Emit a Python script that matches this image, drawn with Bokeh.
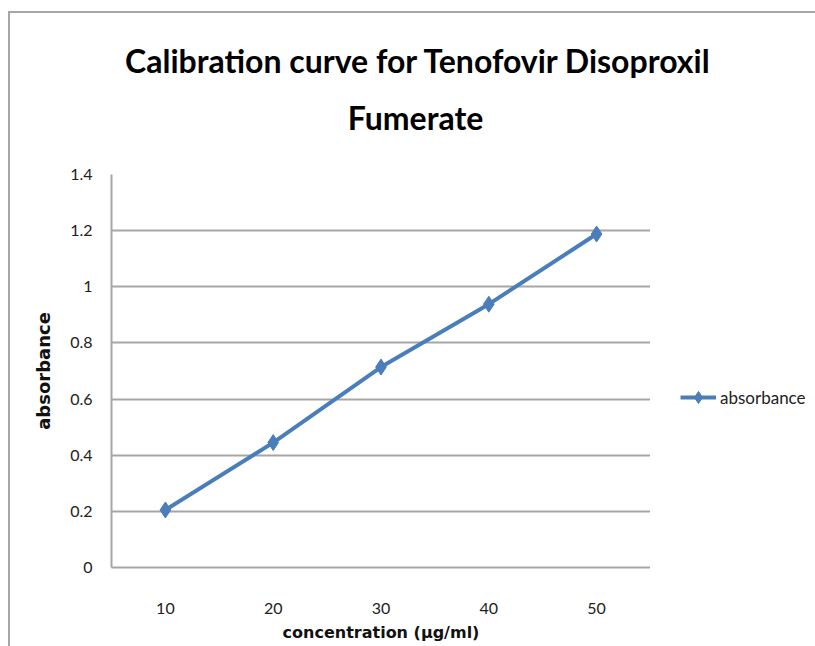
from bokeh.plotting import figure
from bokeh.layouts import row, column
from bokeh.models import (ColumnDataSource, FactorRange, Range1d, FixedTicker, Legend,
                          LegendItem, Label)
from bokeh.embed import file_html
from bokeh.resources import INLINE

# ---- data ----
concentration = ["10", "20", "30", "40", "50"]
absorbance = [0.205, 0.445, 0.714, 0.938, 1.188]
y_ticks = [0, 0.2, 0.4, 0.6, 0.8, 1.0, 1.2, 1.4]
y_tick_labels = ["0", "0.2", "0.4", "0.6", "0.8", "1", "1.2", "1.4"]
title_line1 = "Calibration curve for Tenofovir Disoproxil"
title_line2 = "Fumerate"
x_title = "concentration (\u03bcg/ml)"
y_title = "absorbance"
series_name = "absorbance"

BLUE = "#4a7ebb"
GRID = "#a6a6a6"
FONT = "Lato"
TITLE_H = 150
PLOT_H = 483
TOP, BOTTOM = 11, 79

src = ColumnDataSource(dict(x=concentration, y=absorbance))

# ---------- title strip ----------
t = figure(width=805, height=TITLE_H, output_backend="svg", toolbar_location=None,
           x_axis_location=None, y_axis_location=None, min_border=0,
           x_range=Range1d(0, 805), y_range=Range1d(0, TITLE_H))
t.grid.visible = False
t.outline_line_color = None
t.title.text = ""
for txt, xx, yy in [(title_line1, 408, 103), (title_line2, 405, 46)]:
    t.add_layout(Label(x=xx, y=yy, x_units="screen", y_units="screen", text=txt,
                       text_align="center", text_baseline="middle",
                       text_font=FONT, text_font_style="bold",
                       text_font_size="32px", text_color="#000000"))

# ---------- main plot ----------
p = figure(width=640, height=PLOT_H, output_backend="svg", toolbar_location=None,
           x_range=FactorRange(*concentration, range_padding=0),
           y_range=Range1d(0, 1.4),
           min_border_left=101, min_border_right=0, min_border_top=TOP, min_border_bottom=BOTTOM)
p.title.text = ""
p.outline_line_color = None

line_style = dict(line_color=BLUE, line_width=4)
marker_style = dict(marker="diamond", size=16, fill_color=BLUE, line_color=BLUE)
p.line("x", "y", source=src, **line_style)
p.scatter("x", "y", source=src, **marker_style)

p.xgrid.grid_line_color = None
p.ygrid.grid_line_color = GRID
p.ygrid.grid_line_width = 2
p.ygrid.ticker = FixedTicker(ticks=y_ticks)

p.yaxis.ticker = FixedTicker(ticks=y_ticks)
p.yaxis.major_label_overrides = {tk: lb for tk, lb in zip(y_ticks, y_tick_labels)}
p.yaxis.axis_line_color = GRID
p.yaxis.axis_line_width = 2
p.yaxis.major_tick_line_color = None
p.yaxis.minor_tick_line_color = None
p.yaxis.major_label_standoff = 13
p.yaxis.major_label_text_font = FONT
p.yaxis.major_label_text_font_size = "16px"
p.yaxis.major_label_text_color = "#222222"
p.yaxis.axis_label = y_title
p.yaxis.axis_label_text_font = "DejaVu Sans"
p.yaxis.axis_label_text_font_style = "bold"
p.yaxis.axis_label_text_font_size = "18px"
p.yaxis.axis_label_text_color = "#111111"
p.yaxis.axis_label_standoff = 13

p.xaxis.axis_line_color = GRID
p.xaxis.axis_line_width = 2
p.xaxis.major_tick_line_color = None
p.xaxis.minor_tick_line_color = None
p.xaxis.major_label_standoff = 29
p.xaxis.major_label_text_font = FONT
p.xaxis.major_label_text_font_size = "16px"
p.xaxis.major_label_text_color = "#222222"
p.xaxis.axis_label = x_title
p.xaxis.axis_label_text_font = "DejaVu Sans"
p.xaxis.axis_label_text_font_style = "bold"
p.xaxis.axis_label_text_font_size = "16px"
p.xaxis.axis_label_text_color = "#111111"
p.xaxis.axis_label_standoff = 6

# ---------- legend strip (same series, drawn out of view; only legend shows) ----------
q = figure(width=165, height=PLOT_H, output_backend="svg", toolbar_location=None,
           x_axis_location=None, y_axis_location=None,
           min_border_left=0, min_border_right=0, min_border_top=TOP, min_border_bottom=BOTTOM,
           x_range=FactorRange(*concentration), y_range=Range1d(10, 11))
q.grid.visible = False
q.outline_line_color = None
q.title.text = ""
ql = q.line("x", "y", source=src, **line_style)
qs = q.scatter("x", "y", source=src, **marker_style)
legend = Legend(items=[LegendItem(label=series_name, renderers=[ql, qs])],
                location=(30, 155), orientation="vertical",
                padding=0, margin=0, spacing=0,
                glyph_width=36, glyph_height=30,
                label_text_font=FONT, label_text_font_size="17px",
                label_text_color="#222222", label_standoff=4,
                border_line_color=None, background_fill_alpha=0)
q.add_layout(legend)

layout = column(t, row(p, q))
layout.styles = {"margin-left": "8px", "margin-top": "11px",
                 "border-top": "2px solid #a6a6a6", "border-left": "2px solid #a6a6a6"}

open("out.html", "w").write(file_html(layout, INLINE))
